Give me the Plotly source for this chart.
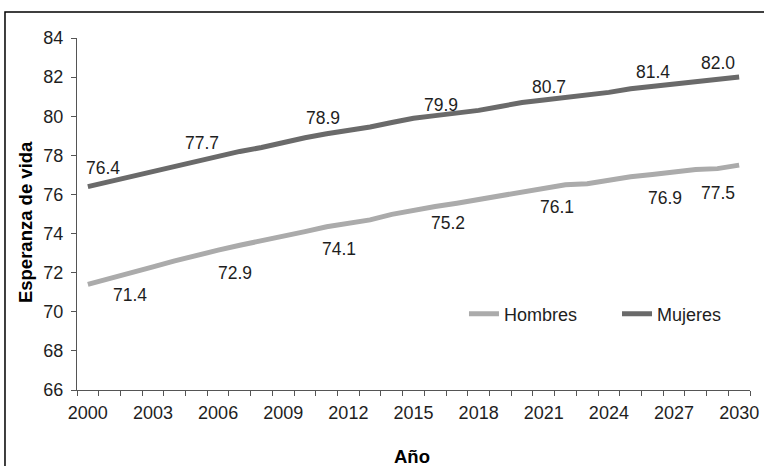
import plotly.graph_objects as go

# ---- data ----
years = list(range(2000, 2031))
mujeres = [76.40, 76.66, 76.93, 77.19, 77.45, 77.70, 77.96, 78.20, 78.40, 78.66,
           78.90, 79.10, 79.27, 79.45, 79.68, 79.90, 80.03, 80.15, 80.30, 80.50,
           80.70, 80.83, 80.95, 81.06, 81.22, 81.40, 81.52, 81.65, 81.80, 81.86, 82.00]
hombres = [71.40, 71.72, 72.00, 72.30, 72.60, 72.90, 73.15, 73.40, 73.62, 73.85,
           74.10, 74.35, 74.55, 74.70, 74.98, 75.20, 75.38, 75.55, 75.75, 75.92,
           76.10, 76.30, 76.50, 76.55, 76.75, 76.90, 77.02, 77.15, 77.28, 77.32, 77.50]
label_years = [2000, 2005, 2010, 2015, 2020, 2025, 2030]
mujeres_labels = [76.4, 77.7, 78.9, 79.9, 80.7, 81.4, 82.0]
hombres_labels = [71.4, 72.9, 74.1, 75.2, 76.1, 76.9, 77.5]
x_tick_years = [2000, 2003, 2006, 2009, 2012, 2015, 2018, 2021, 2024, 2027, 2030]
y_ticks = [66, 68, 70, 72, 74, 76, 78, 80, 82, 84]

# ---- style ----
FONT = "Liberation Sans, Arial, sans-serif"
C_M = "#6a6a6a"
C_H = "#ababab"
TXT = "#1e1e1e"
AX = "#555555"
shift_m = [(15, -19), (6, -18), (18, -20), (27, -13), (27, -16), (22, -17), (-21, -14)]
shift_h = [(42, 11), (39, 18), (34, 17), (34, 13), (35, 15), (34, 21), (-21, 28)]

fig = go.Figure()
fig.add_trace(go.Scatter(x=years, y=hombres, mode="lines", name="Hombres",
                         line=dict(color=C_H, width=5), legend="legend"))
fig.add_trace(go.Scatter(x=years, y=mujeres, mode="lines", name="Mujeres",
                         line=dict(color=C_M, width=5), legend="legend2"))

for yr, v, (dx, dy) in zip(label_years, mujeres_labels, shift_m):
    fig.add_annotation(x=yr, y=v, xref="x", yref="y", text=f"{v:.1f}",
                       showarrow=False, xshift=dx, yshift=-dy,
                       font=dict(family=FONT, size=17.5, color=TXT))
for yr, v, (dx, dy) in zip(label_years, hombres_labels, shift_h):
    fig.add_annotation(x=yr, y=v, xref="x", yref="y", text=f"{v:.1f}",
                       showarrow=False, xshift=dx, yshift=-dy,
                       font=dict(family=FONT, size=17.5, color=TXT))

# axis titles
fig.add_annotation(x=-0.0773, y=0.477, xref="paper", yref="paper",
                   text="<b>Esperanza de vida</b>", textangle=-90, showarrow=False,
                   xanchor="center", yanchor="middle",
                   font=dict(family=FONT, size=18.5, color="#000"))
fig.add_annotation(x=0.4985, y=-0.19, xref="paper", yref="paper",
                   text="<b>Año</b>", showarrow=False, xanchor="center", yanchor="middle",
                   font=dict(family=FONT, size=18.5, color="#000"))

# outer frame (extends past the picture on right and bottom)
fig.add_shape(type="rect", xref="paper", yref="paper",
              x0=-0.107, y0=-0.3, x1=1.05, y1=1.0739,
              line=dict(color="#000", width=1.5), layer="below")

leg_common = dict(orientation="h", y=0.216, xanchor="left", yanchor="middle",
                  bgcolor="rgba(0,0,0,0)", font=dict(family=FONT, size=18, color=TXT))

fig.update_layout(
    width=764, height=466,
    margin=dict(l=77, r=14, t=38, b=76, autoexpand=False),
    paper_bgcolor="white", plot_bgcolor="white",
    font=dict(family=FONT, size=18, color=TXT),
    showlegend=True,
    legend=dict(x=0.575, **leg_common),
    legend2=dict(x=0.8024, **leg_common),
    xaxis=dict(range=[1999.5, 2030.5], tickvals=x_tick_years,
               ticktext=[str(y) for y in x_tick_years],
               showgrid=False, zeroline=False, showline=True, linecolor=AX, linewidth=1.2,
               ticks="outside", ticklen=6, tickcolor="rgba(0,0,0,0)",
               minor=dict(ticks="outside", tick0=1999.5, dtick=1, ticklen=5,
                          tickcolor=AX, showgrid=False),
               tickfont=dict(family=FONT, size=18, color=TXT), fixedrange=True),
    yaxis=dict(range=[66, 84], tickvals=y_ticks, showgrid=False, zeroline=False,
               showline=True, linecolor=AX, linewidth=1.2,
               ticks="outside", ticklen=5, tickcolor=AX, ticklabelstandoff=4,
               tickfont=dict(family=FONT, size=18, color=TXT), fixedrange=True),
)

fig.write_html("out.html", config={"displayModeBar": False},
               post_script="document.body.style.margin='0';document.body.style.overflow='hidden';")
